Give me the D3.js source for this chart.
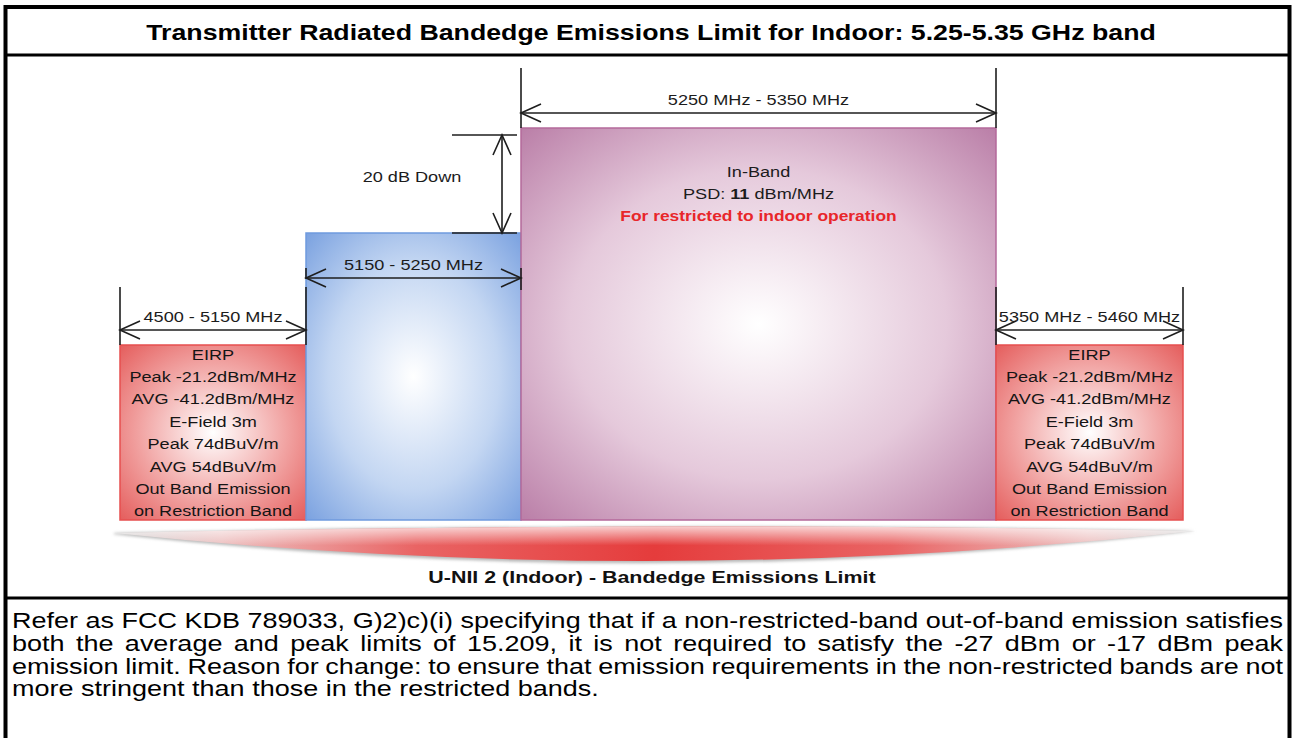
<!DOCTYPE html>
<html>
<head>
<meta charset="utf-8">
<style>
  body { margin: 0; background: #fff; }
  svg { display: block; font-family: "Liberation Sans", Arial, sans-serif; }
</style>
</head>
<body>
<svg id="chart" width="1293" height="738"></svg>
<script src="https://cdn.jsdelivr.net/npm/d3@7"></script>
<script>
// ---- data ----
var title = "Transmitter Radiated Bandedge Emissions Limit for Indoor: 5.25-5.35 GHz band";
var bandLabels = ["4500 - 5150 MHz", "5150 - 5250 MHz", "5250 MHz - 5350 MHz", "5350 MHz - 5460 MHz"];
var bandStart = [4500, 5150, 5250, 5350];
var bandEnd = [5150, 5250, 5350, 5460];
var bandLevel = [-21.2, -9, 11, -21.2];          // dBm/MHz, peak
var bandKind = ["restricted", "edge", "inband", "restricted"];
var floorLevel = -60;
var restrictedLines = ["EIRP", "Peak -21.2dBm/MHz", "AVG -41.2dBm/MHz", "E-Field 3m",
                       "Peak 74dBuV/m", "AVG 54dBuV/m", "Out Band Emission", "on Restriction Band"];
var inBandLines = ["In-Band", "PSD: |11| dBm/MHz", "For restricted to indoor operation"];
var downLabel = "20 dB Down";
var footerLabel = "U-NII 2 (Indoor) - Bandedge Emissions Limit";
var noteLines = [
  "Refer as FCC KDB 789033, G)2)c)(i) specifying that if a non-restricted-band out-of-band emission satisfies",
  "both the average and peak limits of 15.209, it is not required to satisfy the -27 dBm or -17 dBm peak",
  "emission limit. Reason for change: to ensure that emission requirements in the non-restricted bands are not",
  "more stringent than those in the restricted bands."
];

var svg = d3.select("#chart");
var W = 1293, H = 738;
var SX = 1.21; // the picture is wider than plain Arial

// frequency edges -> pixels (band widths in the picture are not to scale)
var x = d3.scaleLinear()
    .domain([4500, 5150, 5250, 5350, 5460])
    .range([120, 306, 521, 996, 1183]);
var y = d3.scaleLinear()
    .domain([floorLevel, -21.2, -9, 11])
    .range([520, 345, 233, 128]);

var defs = svg.append("defs");
function radial(id, mid, edge) {
  var g = defs.append("radialGradient").attr("id", id)
      .attr("cx", "50%").attr("cy", "50%").attr("r", "72%");
  g.append("stop").attr("offset", "0%").attr("stop-color", "#ffffff");
  g.append("stop").attr("offset", "55%").attr("stop-color", mid);
  g.append("stop").attr("offset", "100%").attr("stop-color", edge);
}
radial("gRed", "#f1a3a2", "#e45a59");
radial("gBlue", "#c3d6f2", "#779fdf");
radial("gPink", "#e5c9db", "#b87ba5");

var fills = { restricted: "url(#gRed)", edge: "url(#gBlue)", inband: "url(#gPink)" };
var strokes = { restricted: "#e64f4f", edge: "#6f9ade", inband: "#b4699b" };

// helper: stretched text
function label(parent, tx, ty, str, size, opts) {
  opts = opts || {};
  var t = parent.append("text")
      .attr("transform", "translate(" + tx + "," + ty + ") scale(" + (opts.sx || SX) + ",1)")
      .attr("text-anchor", opts.anchor || "middle")
      .style("font-size", size + "px")
      .style("font-weight", opts.bold ? "bold" : "normal")
      .style("fill", opts.color || "#1c1c1c");
  if (str.indexOf("|") >= 0) {
    str.split("|").forEach(function (p, i) {
      t.append("tspan").text(p).style("font-weight", i % 2 ? "bold" : null);
    });
  } else t.text(str);
  return t;
}

// ---- frame ----
svg.append("rect").attr("x", 5.5).attr("y", 7).attr("width", W - 9).attr("height", H)
  .attr("fill", "none").attr("stroke", "#000").attr("stroke-width", 4);
svg.append("line").attr("x1", 5).attr("x2", W - 3).attr("y1", 55).attr("y2", 55)
  .attr("stroke", "#000").attr("stroke-width", 3);
svg.append("line").attr("x1", 5).attr("x2", W - 3).attr("y1", 598).attr("y2", 598)
  .attr("stroke", "#000").attr("stroke-width", 3);

label(svg, 651, 40, title, 22, { bold: true, color: "#000", sx: 1.215 });

// ---- crescent under the bands ----
var hg = defs.append("linearGradient").attr("id", "gArc");
[["0%", "#d0d0d0"], ["10%", "#edc0c0"], ["28%", "#e96464"], ["50%", "#e53c3c"], ["72%", "#e96464"], ["90%", "#edc0c0"], ["100%", "#d0d0d0"]]
  .forEach(function (s) { hg.append("stop").attr("offset", s[0]).attr("stop-color", s[1]); });
var vg = defs.append("linearGradient").attr("id", "gArcV").attr("x1", 0).attr("x2", 0).attr("y1", 0).attr("y2", 1);
vg.append("stop").attr("offset", "0%").attr("stop-color", "#fff").attr("stop-opacity", 0.75);
vg.append("stop").attr("offset", "55%").attr("stop-color", "#fff").attr("stop-opacity", 0);
defs.append("filter").attr("id", "blur").append("feGaussianBlur").attr("stdDeviation", 1.5);

var x0 = x(4500) - 6, x1 = x(5460) + 12, xm = (x0 + x1) / 2;
function crescent(dy) {
  var p = d3.path();
  p.moveTo(x0, 533);
  p.quadraticCurveTo(xm, 521, x1, 531);
  p.quadraticCurveTo(xm, 590 + dy, x0, 533 + dy / 3);
  p.closePath();
  return p.toString();
}
svg.append("path").attr("d", crescent(4)).attr("fill", "#b8b8b8").attr("filter", "url(#blur)");
svg.append("path").attr("d", crescent(0)).attr("fill", "url(#gArc)");
svg.append("path").attr("d", crescent(0)).attr("fill", "url(#gArcV)");
label(svg, 652, 583, footerLabel, 17, { bold: true, color: "#111", sx: 1.26 });

// ---- band boxes ----
svg.append("g").selectAll("rect")
  .data(d3.range(bandStart.length))
  .join("rect")
  .attr("x", function (i) { return x(bandStart[i]); })
  .attr("y", function (i) { return y(bandLevel[i]); })
  .attr("width", function (i) { return x(bandEnd[i]) - x(bandStart[i]); })
  .attr("height", function (i) { return y(floorLevel) - y(bandLevel[i]); })
  .attr("fill", function (i) { return fills[bandKind[i]]; })
  .attr("stroke", function (i) { return strokes[bandKind[i]]; })
  .attr("stroke-width", 1.5);

// ---- dimension arrows ----
var dim = svg.append("g").attr("stroke", "#1e1e1e").attr("stroke-width", 1.6).attr("fill", "none");
function hArrow(xa, xb, yy) {
  dim.append("line").attr("x1", xa).attr("x2", xb).attr("y1", yy).attr("y2", yy);
  dim.append("path").attr("d", "M" + (xa + 20) + "," + (yy - 9) + "L" + xa + "," + yy + "L" + (xa + 20) + "," + (yy + 9));
  dim.append("path").attr("d", "M" + (xb - 20) + "," + (yy - 9) + "L" + xb + "," + yy + "L" + (xb - 20) + "," + (yy + 9));
}
function vLine(xx, ya, yb) {
  dim.append("line").attr("x1", xx).attr("x2", xx).attr("y1", ya).attr("y2", yb);
}

bandStart.forEach(function (s, i) {
  var xa = x(s), xb = x(bandEnd[i]), top = y(bandLevel[i]);
  var ay;
  if (bandKind[i] === "edge") {
    ay = top + 45;
    vLine(xa, ay - 10, ay + 1);
    vLine(xb, ay - 10, ay + 12);
  } else {
    ay = top - 15;
    var ext = bandKind[i] === "inband" ? 60 : 58;
    vLine(xa, top - ext, top);
    vLine(xb, top - ext, top);
  }
  hArrow(xa, xb, ay);
  label(svg, (xa + xb) / 2, ay - 8, bandLabels[i], 15);
});

// 20 dB down marker
var dx = x(5250) - 19, yt = y(11) + 7, yb = y(-9);
dim.append("line").attr("x1", dx - 50).attr("x2", x(5250) - 4).attr("y1", yt).attr("y2", yt);
dim.append("line").attr("x1", dx - 50).attr("x2", x(5250) - 4).attr("y1", yb).attr("y2", yb);
vLine(dx, yt, yb);
dim.append("path").attr("d", "M" + (dx - 9) + "," + (yt + 20) + "L" + dx + "," + yt + "L" + (dx + 9) + "," + (yt + 20));
dim.append("path").attr("d", "M" + (dx - 9) + "," + (yb - 20) + "L" + dx + "," + yb + "L" + (dx + 9) + "," + (yb - 20));
label(svg, 412, 182, downLabel, 15);

// ---- text inside boxes ----
bandStart.forEach(function (s, i) {
  var cx = (x(s) + x(bandEnd[i])) / 2, top = y(bandLevel[i]);
  if (bandKind[i] === "restricted") {
    restrictedLines.forEach(function (t, k) {
      label(svg, cx, top + 14.5 + k * 22.4, t, 15, { color: "#151515" });
    });
  } else if (bandKind[i] === "inband") {
    inBandLines.forEach(function (t, k) {
      if (k === 2) label(svg, cx, top + 49 + k * 22, t, 15, { color: "#e8262a", bold: true, sx: 1.16 });
      else label(svg, cx, top + 49 + k * 22, t, 15);
    });
  }
});

// ---- note paragraph, justified ----
var noteSize = 22.5, noteX0 = 12, noteX1 = 1283, noteSX = 1.2;
var measure = svg.append("text").style("font-size", noteSize + "px");
function wordWidth(w) { measure.text(w); return measure.node().getComputedTextLength(); }
noteLines.forEach(function (line, li) {
  var words = line.split(" ");
  var widths = words.map(function (w) { return wordWidth(w) * noteSX; });
  var gap = wordWidth("a b") * noteSX - wordWidth("ab") * noteSX;
  if (li < noteLines.length - 1) {
    gap = (noteX1 - noteX0 - d3.sum(widths)) / (words.length - 1);
  }
  var cx = noteX0, by = 628 + li * 22.8;
  words.forEach(function (w, k) {
    label(svg, cx, by, w, noteSize, { anchor: "start", color: "#000", sx: noteSX });
    cx += widths[k] + gap;
  });
});
measure.remove();
</script>
</body>
</html>
